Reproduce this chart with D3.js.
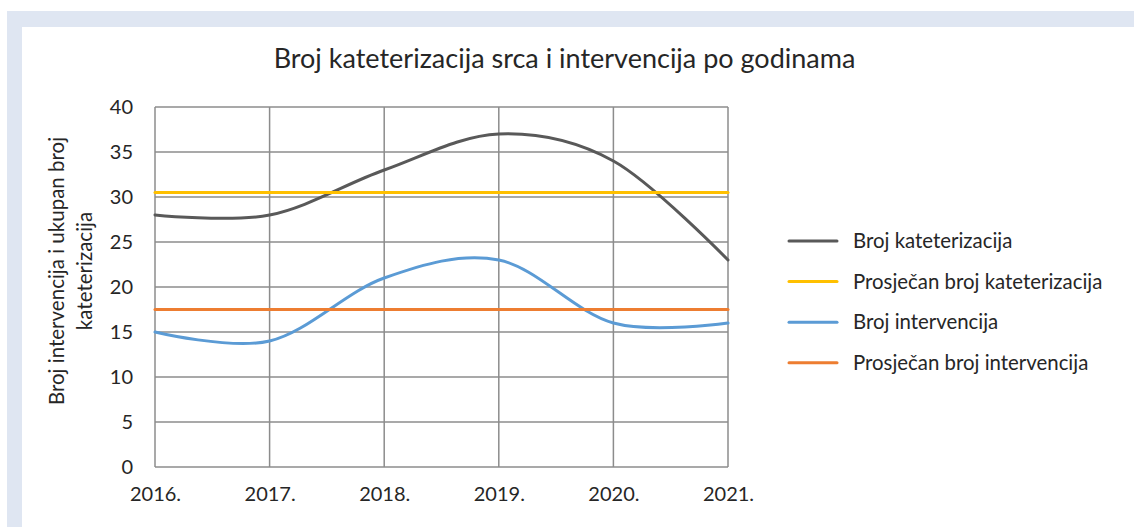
<!DOCTYPE html>
<html><head><meta charset="utf-8">
<script src="https://cdn.jsdelivr.net/npm/d3@7"></script>
<style>body{margin:0;background:#fff}svg{display:block}text{font-family:Lato,"Open Sans",sans-serif;fill:#262626}</style>
</head><body><svg id="c" width="1134" height="527"></svg>
<script>
const years = ["2016.","2017.","2018.","2019.","2020.","2021."];
const kateterizacije = [28,28,33,37,34,23];
const intervencije = [15,14,21,23,16,16];
const prosjekKat = [30.5,30.5,30.5,30.5,30.5,30.5];
const prosjekInt = [17.5,17.5,17.5,17.5,17.5,17.5];
const yTicks = [0,5,10,15,20,25,30,35,40];
const seriesNames = ["Broj kateterizacija","Prosječan broj kateterizacija","Broj intervencija","Prosječan broj intervencija"];
const seriesColors = ["#595959","#FFC000","#5B9BD5","#ED7D31"];
const title = "Broj kateterizacija srca i intervencija po godinama";
const yLabel = ["Broj intervencija i ukupan broj","kateterizacija"];

const svg = d3.select("#c");
svg.append("rect").attr("x",7).attr("y",11).attr("width",1127).attr("height",516).attr("fill","#DFE6F2");
svg.append("rect").attr("x",22).attr("y",27).attr("width",1112).attr("height",500).attr("fill","#fff");

const x = d3.scalePoint().domain(years).range([155,728]);
const y = d3.scaleLinear().domain([0,40]).range([467,107]);

const g = svg.append("g");
g.selectAll(".hg").data(yTicks).join("line")
 .attr("x1",155).attr("x2",728).attr("y1",d=>y(d)).attr("y2",d=>y(d))
 .attr("stroke","#8C8C8C").attr("stroke-width",1.5);
g.selectAll(".vg").data(years).join("line")
 .attr("x1",d=>x(d)).attr("x2",d=>x(d)).attr("y1",y(0)).attr("y2",y(40))
 .attr("stroke","#8C8C8C").attr("stroke-width",1.5);

const yAxis = d3.axisLeft(y).tickValues(yTicks).tickSize(0).tickPadding(22);
const ya = svg.append("g").attr("transform","translate(155,0)").call(yAxis);
ya.select(".domain").remove();
ya.selectAll("text").style("font-size","20px").attr("fill","#262626").style("font-family","Lato");
const xAxis = d3.axisBottom(x).tickSize(0).tickPadding(20);
const xa = svg.append("g").attr("transform","translate(0,467)").call(xAxis);
xa.select(".domain").remove();
xa.selectAll("text").style("font-size","20px").attr("fill","#262626").style("font-family","Lato");

const line = d3.line().x((d,i)=>x(years[i])).y(d=>y(d)).curve(d3.curveCatmullRom.alpha(0));
const data = [kateterizacije,prosjekKat,intervencije,prosjekInt];
[0,2,1,3].forEach(i=>{
  svg.append("path").attr("d",line(data[i])).attr("fill","none")
   .attr("stroke",seriesColors[i]).attr("stroke-width",3).attr("stroke-linecap","round");
});

svg.append("text").attr("x",564.5).attr("y",68).attr("text-anchor","middle")
 .style("font-size","27px").text(title);

const yl = svg.append("text").attr("transform","translate(0,271) rotate(-90)").attr("text-anchor","middle").style("font-size","20.5px");
yl.append("tspan").attr("x",0).attr("y",64).text(yLabel[0]);
yl.append("tspan").attr("x",0).attr("y",92).text(yLabel[1]);

const lg = svg.append("g");
seriesNames.forEach((n,i)=>{
  const yy = 241 + i*40.6;
  lg.append("line").attr("x1",789).attr("x2",837).attr("y1",yy).attr("y2",yy)
    .attr("stroke",seriesColors[i]).attr("stroke-width",3).attr("stroke-linecap","round");
  lg.append("text").attr("x",853).attr("y",yy+7).style("font-size","20.4px").text(n);
});
</script></body></html>
